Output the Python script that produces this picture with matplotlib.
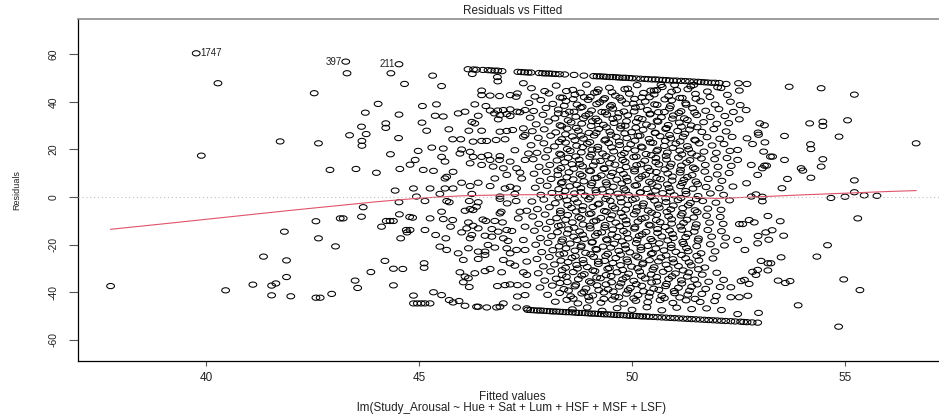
#!/usr/bin/env python3
"""Residuals vs Fitted diagnostic plot (R plot.lm style) redrawn with matplotlib."""
import numpy as np
import matplotlib
matplotlib.use("Agg")
import matplotlib.pyplot as plt
from matplotlib.path import Path

plt.rcParams["font.family"] = ["Liberation Sans", "DejaVu Sans"]
plt.rcParams["axes.unicode_minus"] = False

# (fitted, residual) pairs, grouped by region
left_tail = [
    (39.77, 60.5), (40.28, 47.9), (39.89, 17.4), (41.74, 23.4), (42.54, 43.7), (42.64, 22.6),
    (37.76, -37.5), (40.46, -39.3), (41.10, -36.9), (41.35, -25.1), (41.54, -37.3), (41.64, -36.4),
    (41.54, -41.4), (41.84, -14.6), (41.89, -26.7), (41.89, -33.7), (41.99, -41.8), (42.58, -10.2),
    (42.64, -17.4), (42.58, -42.4), (42.68, -42.4),
    (43.28, 57.0), (43.31, 52.1), (44.53, 55.9), (44.34, 52.1), (44.66, 47.6), (44.04, 39.2),
    (43.74, 35.5), (44.53, 34.7), (43.65, 29.6), (44.22, 31.0), (44.22, 29.1), (43.37, 26.0),
    (43.76, 26.5), (43.66, 23.6), (43.66, 21.6), (44.52, 24.8), (44.33, 18.0), (42.91, 11.4),
    (43.52, 11.8), (44.00, 10.2), (44.55, 11.8), (44.79, 13.6), (44.44, 2.7), (43.69, -4.3),
    (44.53, -2.2), (43.04, -20.8), (43.15, -9.0), (43.22, -9.0), (43.65, -8.3), (42.95, -40.8),
    (43.50, -35.2), (43.56, -38.3), (43.87, -31.6), (44.20, -26.9), (44.40, -30.2), (44.62, -30.3),
    (44.40, -37.2), (44.12, -12.5), (44.23, -10.1), (44.32, -10.1), (44.40, -10.1), (44.54, -7.3),
    (44.57, -17.4), (44.70, -13.9), (44.72, -14.9), (44.78, -8.4),
]

mid_upper = [
    (45.32, 51.1), (46.25, 51.8), (46.84, 50.5), (46.85, 48.7), (45.53, 46.7), (47.45, 47.9),
    (46.47, 44.8), (46.47, 42.9), (46.67, 42.7), (46.89, 42.5), (47.14, 42.9), (47.31, 43.6), (47.28, 42.2),
    (45.08, 38.3), (45.41, 39.0), (46.31, 39.0), (46.57, 38.3), (46.67, 36.4), (46.85, 36.4), (46.98, 36.6),
    (47.14, 36.9), (47.30, 35.9), (47.37, 35.7), (47.49, 36.6), (46.77, 35.2), (46.90, 34.5), (47.06, 34.9),
    (47.14, 34.1), (46.86, 32.7), (45.92, 35.2), (46.08, 35.9), (45.38, 34.2), (45.57, 33.9), (46.39, 34.2),
    (46.24, 31.6), (46.31, 31.0), (45.07, 31.3), (45.18, 27.9), (45.70, 28.5), (46.17, 27.9), (46.47, 27.9),
    (46.90, 27.5), (47.06, 27.8), (47.20, 28.2), (47.45, 28.9), (47.49, 26.1), (45.79, 24.3), (45.98, 24.3),
    (46.27, 23.3), (46.47, 23.6), (46.59, 23.6), (46.81, 24.0), (47.02, 24.3), (47.45, 25.4),
    (44.98, 19.4), (45.30, 20.8), (45.57, 20.4), (46.00, 20.0), (45.96, 18.3), (46.20, 19.0), (46.27, 16.9),
    (46.47, 16.9), (46.62, 17.6), (46.90, 17.2), (46.67, 15.6), (46.89, 15.6), (47.14, 14.9), (47.25, 19.7),
    (47.57, 18.3), (47.49, 15.6), (44.91, 15.6), (45.10, 11.4), (45.34, 11.0), (45.53, 16.9), (45.61, 14.9),
    (45.80, 10.6), (46.20, 14.2), (46.47, 13.5), (46.74, 12.8), (46.98, 12.1), (47.06, 9.3), (47.29, 12.1),
    (47.37, 10.3), (45.61, 7.8), (45.65, 8.5), (46.00, 6.0), (46.20, 4.6), (46.39, 6.0), (46.67, 4.6),
    (46.78, 7.8), (47.02, 3.6), (47.14, 4.3), (47.29, 3.6), (47.41, 7.8), (44.87, 3.6), (45.26, 3.6),
    (45.61, 3.6), (45.80, 3.6), (44.94, 0.2), (45.49, 1.3), (46.24, 1.3), (46.90, 0.2), (47.25, 1.3),
]

mid_lower = [
    (45.14, -1.7), (45.65, -1.7), (45.71, -2.2), (46.18, -1.7), (46.39, -2.2), (46.90, -0.8), (47.07, -2.7),
    (47.28, -1.7), (45.53, -6.2), (46.08, -5.8), (46.27, -5.5), (46.35, -4.1), (46.20, -5.1), (46.90, -6.9),
    (46.93, -6.2), (47.37, -6.2), (47.53, -5.8), (44.85, -8.7), (45.26, -9.0), (45.57, -9.3), (45.79, -9.7),
    (46.16, -10.7), (46.27, -12.1), (46.50, -9.5), (46.57, -10.1), (46.78, -10.1), (46.96, -10.7), (47.33, -9.0),
    (45.74, -12.5), (46.12, -13.2), (46.39, -13.2), (46.71, -13.5), (46.86, -14.6), (47.06, -13.9), (47.18, -14.3),
    (47.49, -12.5), (44.79, -13.9), (45.14, -13.9), (45.39, -16.0), (45.63, -17.4), (46.00, -14.9), (46.24, -16.0),
    (46.20, -17.4), (46.55, -16.3), (46.71, -16.7), (46.98, -17.4), (47.09, -18.5), (47.45, -18.1), (45.49, -20.9),
    (45.65, -22.3), (45.92, -23.7), (46.16, -21.6), (46.39, -23.0), (46.62, -20.2), (46.78, -21.3), (47.06, -21.6),
    (47.14, -23.7), (47.29, -22.3), (47.49, -22.3), (45.12, -27.9), (45.12, -29.8), (46.04, -26.5), (46.39, -26.1),
    (46.55, -23.0), (46.55, -24.4), (46.98, -26.5), (47.14, -27.9), (47.25, -28.9), (47.53, -27.2), (45.96, -31.7),
    (46.08, -33.5), (46.16, -34.2), (46.31, -32.1), (46.55, -31.2), (46.67, -30.3), (46.94, -31.7), (47.45, -31.7),
    (47.53, -32.8), (46.04, -35.9), (46.18, -37.9), (46.84, -37.5), (47.02, -37.1), (47.14, -36.8), (47.31, -37.1),
    (47.53, -37.1), (44.87, -41.5), (45.34, -40.1), (45.53, -41.3), (45.71, -43.4), (45.80, -44.4), (45.94, -43.8),
    (46.08, -45.8), (46.35, -46.2), (46.39, -46.2), (46.59, -46.5), (46.82, -46.5), (46.90, -46.2), (46.98, -44.8),
    (47.31, -41.9), (47.49, -41.3), (47.29, -46.5), (47.53, -46.9), (44.87, -44.8), (44.96, -44.8), (45.05, -44.8),
    (45.14, -44.8), (45.26, -44.8),
]

right_side = [
    (53.69, 46.4), (54.44, 45.8), (55.22, 43.1), (56.67, 22.6), (54.17, 31.0), (54.48, 31.7), (54.48, 29.9),
    (55.06, 32.3), (53.58, 25.7), (54.86, 25.4), (54.19, 22.2), (54.20, 20.2), (53.11, 30.2), (52.96, 27.1),
    (52.97, 26.2), (52.70, 24.7), (52.83, 22.3), (53.12, 23.0), (53.09, 19.1), (53.25, 17.0), (53.30, 17.0),
    (53.58, 15.6), (54.48, 15.9), (54.44, 12.8), (53.97, 12.1), (54.01, 11.1), (53.11, 13.2), (53.16, 13.2),
    (54.20, 8.1), (53.65, 7.6), (55.22, 7.0), (53.52, 3.7), (55.22, 2.0), (55.00, 0.1), (55.45, 0.7),
    (55.75, 0.5), (54.67, -0.4), (52.91, 1.1), (53.06, 0.1), (53.06, -1.8), (53.19, -8.0), (55.30, -9.0),
    (54.59, -20.3), (54.34, -25.1), (54.97, -34.7), (55.35, -39.2), (53.90, -45.6), (54.85, -54.6),
    (53.50, -25.4), (53.43, -35.2), (53.60, -36.2), (53.71, -35.4), (53.56, -16.3), (53.48, -10.2),
    (53.29, -14.0), (53.14, -14.9), (53.21, -18.0), (53.19, -27.9), (53.26, -27.9), (53.19, -30.9),
    (52.97, -48.8), (52.32, -42.2), (52.52, -42.2), (52.72, -41.6), (52.48, -49.3), (53.03, -26.9),
    (52.95, -30.7), (52.83, -31.5), (52.91, -32.8), (52.75, -36.6), (52.64, -34.9), (52.56, -35.4),
    (52.32, -38.0), (52.65, -22.3), (52.48, -18.1), (52.96, -16.4), (52.95, -19.5), (52.75, -9.7),
    (52.87, -10.7), (52.52, -11.4), (52.60, -11.4), (52.54, 38.7), (52.68, 36.6), (52.52, 32.7),
    (53.00, 31.0), (52.48, 19.8), (52.48, 15.6), (52.80, 13.5), (52.95, 9.3), (53.06, 12.1), (52.69, 5.8),
    (52.80, 0.2), (52.01, 46.2), (52.21, 47.6), (52.50, 47.9), (52.70, 47.6), (52.52, 44.8), (50.68, 47.2),
    (51.00, 47.2), (51.45, 47.2), (50.52, 44.8),
]

# responses at the top of the scale (residual = 100 - fitted)
ceiling = [
    (46.15, 53.8), (46.28, 53.7), (46.35, 53.6), (46.50, 53.5), (46.62, 53.4), (46.70, 53.3), (46.78, 53.2),
    (46.85, 53.2), (46.95, 53.0), (47.32, 52.7), (47.40, 52.6), (47.48, 52.5), (47.56, 52.4), (47.63, 52.4),
    (47.82, 52.2), (47.90, 52.1), (47.97, 52.0), (48.05, 52.0), (48.12, 51.9), (48.20, 51.8), (48.30, 51.7),
    (48.42, 51.6), (48.64, 51.4), (48.87, 51.1), (49.10, 50.9), (49.18, 50.8), (49.25, 50.8), (49.33, 50.7),
    (49.40, 50.6), (49.48, 50.5), (49.55, 50.5), (49.63, 50.4), (49.70, 50.3), (49.78, 50.2), (49.85, 50.2),
    (49.93, 50.1), (50.00, 50.0), (50.10, 49.9), (50.20, 49.8), (50.30, 49.7), (50.38, 49.6), (50.47, 49.5),
    (50.55, 49.5), (50.63, 49.4), (50.72, 49.3), (50.80, 49.2), (50.88, 49.1), (50.97, 49.0), (51.05, 49.0),
    (51.15, 48.9), (51.25, 48.8), (51.35, 48.7), (51.45, 48.6), (51.55, 48.5), (51.62, 48.4), (51.70, 48.3),
    (51.78, 48.2), (51.87, 48.1), (51.95, 48.1), (52.05, 48.0),
]

# responses at the bottom of the scale (residual = -fitted)
floor = [
    (47.55, -47.5), (47.62, -47.6), (47.70, -47.7), (47.78, -47.8), (47.85, -47.8), (47.92, -47.9),
    (48.00, -48.0), (48.08, -48.1), (48.15, -48.2), (48.22, -48.2), (48.30, -48.3), (48.38, -48.4),
    (48.45, -48.5), (48.52, -48.5), (48.60, -48.6), (48.68, -48.7), (48.75, -48.8), (48.83, -48.8),
    (48.90, -48.9), (48.98, -49.0), (49.05, -49.1), (49.12, -49.1), (49.20, -49.2), (49.28, -49.3),
    (49.35, -49.4), (49.42, -49.4), (49.50, -49.5), (49.58, -49.6), (49.65, -49.7), (49.72, -49.7),
    (49.80, -49.8), (49.88, -49.9), (49.95, -50.0), (50.03, -50.0), (50.10, -50.1), (50.18, -50.2),
    (50.25, -50.3), (50.33, -50.3), (50.40, -50.4), (50.50, -50.5), (50.60, -50.6), (50.70, -50.7),
    (50.80, -50.8), (50.90, -50.9), (51.00, -51.0), (51.10, -51.1), (51.20, -51.2), (51.30, -51.3),
    (51.40, -51.4), (51.50, -51.5), (51.60, -51.6), (51.70, -51.7), (51.80, -51.8), (51.90, -51.9),
    (52.00, -52.0), (52.10, -52.1), (52.20, -52.2), (52.32, -52.3), (52.42, -52.4), (52.55, -52.5),
    (52.62, -52.6), (52.70, -52.7), (52.82, -52.8), (52.95, -52.9),
]

core_top = [
    (47.64, 45.8), (47.95, 44.6), (48.22, 46.9), (48.61, 45.1), (48.93, 47.3), (49.18, 44.2), (49.47, 46.0),
    (49.83, 45.4), (50.12, 47.1), (50.44, 44.8), (50.71, 46.3), (51.05, 45.0), (51.38, 46.6), (51.77, 44.4),
    (52.09, 45.9),
    (47.72, 42.3), (48.05, 43.6), (48.37, 41.8), (48.66, 43.1), (48.88, 42.0), (49.12, 43.9), (49.36, 41.6),
    (49.61, 42.7), (49.94, 43.5), (50.23, 41.9), (50.52, 43.2), (50.86, 42.4), (51.18, 41.7), (51.49, 43.4),
    (51.83, 42.1), (52.24, 43.0),
    (47.58, 39.6), (47.86, 40.8), (48.14, 39.2), (48.45, 40.4), (48.71, 38.9), (48.97, 40.9), (49.24, 39.8),
    (49.52, 38.7), (49.76, 40.6), (50.03, 39.3), (50.31, 40.2), (50.59, 38.8), (50.93, 40.7), (51.26, 39.5),
    (51.61, 40.3), (51.95, 38.9), (52.31, 40.1),
    (47.69, 36.2), (47.98, 37.5), (48.27, 36.8), (48.53, 35.9), (48.79, 37.6), (49.05, 36.4), (49.29, 35.8),
    (49.55, 37.2), (49.81, 36.0), (50.08, 37.7), (50.36, 36.6), (50.62, 35.7), (50.88, 37.3), (51.15, 36.1),
    (51.42, 37.4), (51.73, 36.3), (52.04, 37.0), (52.38, 35.8),
    (47.61, 33.4), (47.91, 34.6), (48.19, 33.1), (48.42, 34.9), (48.68, 33.8), (48.91, 34.2), (49.15, 33.0),
    (49.41, 34.7), (49.66, 33.5), (49.90, 34.4), (50.15, 33.2), (50.42, 34.8), (50.69, 33.6), (50.97, 34.3),
    (51.23, 33.1), (51.52, 34.5), (51.84, 33.7), (52.18, 34.1),
    (47.75, 30.6), (48.04, 31.8), (48.31, 30.2), (48.57, 31.4), (48.82, 30.9), (49.07, 31.9), (49.33, 30.4),
    (49.58, 31.2), (49.84, 30.0), (50.10, 31.6), (50.34, 30.5), (50.61, 31.7), (50.85, 30.3), (51.11, 31.3),
    (51.39, 30.1), (51.68, 31.5), (51.99, 30.8), (52.27, 31.1),
]

core_upper_mid = [
    (47.66, 27.7), (47.94, 28.5), (48.21, 27.2), (48.48, 28.8), (48.74, 27.9), (48.99, 27.0), (49.22, 28.6),
    (49.48, 27.5), (49.73, 28.9), (49.99, 27.3), (50.26, 28.3), (50.54, 27.1), (50.79, 28.7), (51.07, 27.8),
    (51.35, 28.4), (51.64, 27.4), (51.92, 28.6), (52.21, 27.6),
    (47.80, 24.9), (48.09, 25.8), (48.35, 24.3), (48.60, 25.5), (48.86, 24.6), (49.11, 25.9), (49.38, 24.2),
    (49.63, 25.3), (49.88, 24.8), (50.14, 25.7), (50.40, 24.4), (50.66, 25.6), (50.91, 24.7), (51.20, 25.4),
    (51.47, 24.1), (51.76, 25.2), (52.06, 24.5), (52.35, 25.3),
    (47.63, 21.8), (47.93, 22.6), (48.18, 21.3), (48.44, 22.9), (48.70, 21.6), (48.95, 22.4), (49.20, 21.1),
    (49.45, 22.7), (49.71, 21.9), (49.97, 22.2), (50.22, 21.2), (50.49, 22.8), (50.76, 21.5), (51.03, 22.5),
    (51.30, 21.4), (51.58, 22.6), (51.88, 21.7), (52.16, 22.3),
    (47.77, 18.6), (48.02, 19.7), (48.30, 18.2), (48.55, 19.4), (48.81, 18.8), (49.06, 19.9), (49.31, 18.3),
    (49.57, 19.2), (49.82, 18.5), (50.07, 19.6), (50.33, 18.1), (50.58, 19.3), (50.83, 18.7), (51.12, 19.5),
    (51.40, 18.4), (51.69, 19.1), (51.98, 18.6), (52.30, 19.4),
    (47.68, 15.9), (47.97, 16.7), (48.24, 15.4), (48.50, 16.5), (48.76, 15.7), (49.01, 16.9), (49.26, 15.2),
    (49.52, 16.3), (49.78, 15.6), (50.04, 16.8), (50.30, 15.3), (50.56, 16.4), (50.81, 15.8), (51.09, 16.6),
    (51.36, 15.5), (51.63, 16.2), (51.94, 15.9), (52.23, 16.4),
    (47.82, 12.7), (48.07, 13.5), (48.33, 12.2), (48.59, 13.8), (48.84, 12.9), (49.09, 13.3), (49.34, 12.1),
    (49.60, 13.6), (49.86, 12.6), (50.11, 13.4), (50.37, 12.3), (50.63, 13.7), (50.89, 12.8), (51.16, 13.2),
    (51.44, 12.4), (51.72, 13.5), (52.02, 12.7), (52.33, 13.1),
]

core_lower_mid = [
    (47.70, 9.8), (47.99, 10.6), (48.26, 9.3), (48.52, 10.4), (48.78, 9.6), (49.03, 10.9), (49.28, 9.1),
    (49.54, 10.2), (49.80, 9.7), (50.06, 10.8), (50.32, 9.4), (50.57, 10.5), (50.84, 9.9), (51.13, 10.3),
    (51.41, 9.2), (51.71, 10.7), (52.00, 9.5), (52.28, 10.1),
    (47.84, 6.8), (48.10, 7.6), (48.36, 6.3), (48.62, 7.4), (48.87, 6.6), (49.13, 7.9), (49.39, 6.2),
    (49.64, 7.3), (49.89, 6.7), (50.16, 7.7), (50.41, 6.4), (50.67, 7.5), (50.94, 6.9), (51.22, 7.2),
    (51.50, 6.5), (51.79, 7.6), (52.11, 6.8),
    (47.73, 3.9), (48.01, 4.7), (48.28, 3.3), (48.54, 4.5), (48.80, 3.7), (49.04, 4.9), (49.30, 3.2),
    (49.56, 4.3), (49.81, 3.6), (50.07, 4.8), (50.35, 3.4), (50.60, 4.4), (50.87, 3.8), (51.14, 4.6),
    (51.43, 3.5), (51.74, 4.2), (52.05, 3.7), (52.37, 4.4),
    (47.86, 0.9), (48.12, 1.7), (48.39, 0.4), (48.65, 1.5), (48.90, 0.6), (49.16, 1.9), (49.42, 0.3),
    (49.67, 1.4), (49.92, 0.8), (50.19, 1.8), (50.45, 0.5), (50.72, 1.6), (50.99, 0.7), (51.27, 1.3),
    (51.55, 0.4), (51.84, 1.5), (52.15, 0.9),
    (47.65, -1.9), (47.93, -1.1), (48.20, -2.6), (48.47, -1.4), (48.72, -2.3), (48.98, -1.0), (49.23, -2.8),
    (49.49, -1.6), (49.75, -2.2), (50.01, -1.2), (50.27, -2.7), (50.53, -1.5), (50.80, -2.1), (51.08, -1.3),
    (51.37, -2.5), (51.66, -1.7), (51.97, -2.4), (52.29, -1.4),
    (47.78, -5.1), (48.06, -4.3), (48.32, -5.8), (48.58, -4.6), (48.83, -5.5), (49.08, -4.2), (49.35, -5.9),
    (49.60, -4.8), (49.85, -5.3), (50.12, -4.4), (50.38, -5.7), (50.64, -4.5), (50.91, -5.2), (51.19, -4.7),
    (51.48, -5.6), (51.78, -4.9), (52.09, -5.4),
]

core_low = [
    (47.67, -8.2), (47.96, -7.4), (48.23, -8.9), (48.49, -7.6), (48.75, -8.5), (49.00, -7.2), (49.27, -8.8),
    (49.53, -7.7), (49.79, -8.3), (50.05, -7.3), (50.31, -8.7), (50.58, -7.5), (50.86, -8.1), (51.15, -7.8),
    (51.45, -8.6), (51.75, -7.9), (52.07, -8.4),
    (47.81, -11.3), (48.08, -10.5), (48.34, -11.9), (48.60, -10.7), (48.85, -11.6), (49.10, -10.3),
    (49.37, -11.8), (49.62, -10.8), (49.87, -11.4), (50.14, -10.4), (50.40, -11.7), (50.66, -10.6),
    (50.93, -11.2), (51.21, -10.9), (51.51, -11.5), (51.82, -10.8), (52.14, -11.3),
    (47.71, -14.2), (47.99, -13.4), (48.25, -14.8), (48.51, -13.6), (48.77, -14.5), (49.02, -13.2),
    (49.29, -14.9), (49.55, -13.7), (49.80, -14.3), (50.06, -13.3), (50.33, -14.7), (50.60, -13.5),
    (50.88, -14.1), (51.17, -13.8), (51.46, -14.6), (51.78, -13.9), (52.10, -14.4),
    (47.85, -17.3), (48.11, -16.5), (48.37, -17.9), (48.63, -16.7), (48.88, -17.6), (49.14, -16.3),
    (49.40, -17.8), (49.65, -16.8), (49.91, -17.4), (50.17, -16.4), (50.44, -17.7), (50.70, -16.6),
    (50.97, -17.2), (51.26, -16.9), (51.56, -17.5), (51.87, -16.7), (52.20, -17.1),
    (47.74, -20.1), (48.03, -19.3), (48.29, -20.8), (48.55, -19.6), (48.81, -20.5), (49.06, -19.2),
    (49.32, -20.9), (49.58, -19.7), (49.84, -20.3), (50.10, -19.4), (50.37, -20.6), (50.64, -19.5),
    (50.92, -20.2), (51.21, -19.8), (51.52, -20.7), (51.84, -19.9), (52.17, -20.4),
    (47.88, -23.2), (48.14, -22.4), (48.40, -23.8), (48.66, -22.6), (48.91, -23.5), (49.17, -22.2),
    (49.43, -23.9), (49.69, -22.7), (49.95, -23.3), (50.21, -22.3), (50.48, -23.6), (50.75, -22.5),
    (51.03, -23.1), (51.32, -22.8), (51.62, -23.7), (51.95, -22.9),
]

core_bottom = [
    (47.77, -26.1), (48.06, -25.3), (48.33, -26.8), (48.59, -25.6), (48.85, -26.5), (49.10, -25.2),
    (49.36, -26.9), (49.62, -25.7), (49.88, -26.3), (50.14, -25.4), (50.41, -26.6), (50.68, -25.5),
    (50.96, -26.2), (51.26, -25.8), (51.57, -26.7), (51.90, -25.9),
    (47.92, -29.2), (48.18, -28.4), (48.44, -29.8), (48.70, -28.6), (48.95, -29.5), (49.21, -28.2),
    (49.47, -29.9), (49.73, -28.7), (49.99, -29.3), (50.25, -28.3), (50.52, -29.6), (50.80, -28.5),
    (51.09, -29.1), (51.39, -28.8), (51.71, -29.7),
    (47.80, -32.1), (48.09, -31.3), (48.36, -32.8), (48.62, -31.6), (48.88, -32.5), (49.13, -31.2),
    (49.39, -32.9), (49.65, -31.7), (49.92, -32.3), (50.18, -31.4), (50.45, -32.6), (50.73, -31.5),
    (51.02, -32.2), (51.33, -31.8), (51.65, -32.7), (51.99, -31.9),
    (47.95, -35.2), (48.22, -34.4), (48.48, -35.8), (48.74, -34.6), (49.00, -35.5), (49.26, -34.2),
    (49.52, -35.9), (49.78, -34.7), (50.04, -35.3), (50.31, -34.3), (50.58, -35.6), (50.86, -34.5),
    (51.16, -35.1), (51.47, -34.8), (51.80, -35.7), (52.15, -34.9),
    (47.84, -38.1), (48.13, -37.3), (48.40, -38.8), (48.66, -37.6), (48.92, -38.5), (49.18, -37.2),
    (49.44, -38.9), (49.70, -37.7), (49.96, -38.3), (50.23, -37.4), (50.51, -38.6), (50.79, -37.5),
    (51.09, -38.2), (51.40, -37.8), (51.73, -38.7), (52.07, -37.9),
    (48.02, -41.2), (48.30, -40.4), (48.56, -41.8), (48.82, -40.6), (49.08, -41.5), (49.34, -40.2),
    (49.60, -41.9), (49.87, -40.7), (50.14, -41.3), (50.42, -40.3), (50.70, -41.6), (51.00, -40.5),
    (51.31, -41.1), (51.64, -40.8), (51.98, -41.7),
    (48.20, -44.1), (48.47, -43.3), (48.73, -44.8), (49.00, -43.6), (49.27, -44.5), (49.54, -43.2),
    (49.81, -44.9), (50.09, -43.7), (50.37, -44.3), (50.66, -43.4), (50.96, -44.6), (51.27, -43.5),
    (51.60, -44.2), (51.94, -43.8),
    (48.60, -47.3), (48.95, -46.5), (49.30, -47.9), (49.65, -46.8), (50.00, -47.5), (50.35, -46.4),
    (50.70, -47.7), (51.05, -46.6), (51.40, -47.2), (51.75, -46.9), (52.10, -47.6),
]

core_dense = [
    (48.46, 44.6), (48.79, 43.9), (49.21, 45.3), (49.53, 44.1), (49.90, 45.6), (50.27, 43.8), (50.58, 45.0),
    (50.93, 44.3), (51.31, 45.4), (48.41, 38.4), (48.83, 37.9), (49.17, 39.1), (49.49, 38.1), (49.86, 39.3),
    (50.20, 38.0), (50.53, 39.0), (50.90, 38.3), (51.27, 38.9), (48.50, 32.3), (48.86, 33.1), (49.20, 32.0),
    (49.55, 32.9), (49.87, 31.9), (50.24, 32.8), (50.59, 32.1), (50.95, 33.0), (51.30, 32.4), (48.44, 26.4),
    (48.80, 25.9), (49.16, 27.0), (49.51, 26.2), (49.83, 26.8), (50.19, 25.8), (50.55, 26.9), (50.88, 26.1),
    (51.24, 26.6), (48.48, 20.2), (48.84, 21.0), (49.19, 20.0), (49.52, 20.9), (49.89, 20.3), (50.24, 20.8),
    (50.60, 19.9), (50.96, 20.7), (51.33, 20.1), (48.42, 14.6), (48.78, 13.9), (49.14, 14.9), (49.47, 14.2),
    (49.84, 14.8), (50.21, 13.8), (50.56, 14.7), (50.92, 14.0), (51.28, 14.5), (48.47, 8.3), (48.83, 8.9),
    (49.18, 8.1), (49.50, 8.8), (49.87, 8.2), (50.23, 8.7), (50.58, 8.0), (50.95, 8.6), (51.30, 8.4),
    (48.43, 2.6), (48.80, 2.1), (49.15, 2.9), (49.48, 2.2), (49.85, 2.8), (50.20, 2.0), (50.55, 2.7),
    (50.90, 2.3), (51.26, 2.5), (48.49, -3.4), (48.85, -3.9), (49.20, -3.1), (49.54, -3.8), (49.90, -3.3),
    (50.25, -3.7), (50.61, -3.2), (50.97, -3.6), (51.32, -3.5), (48.44, -9.6), (48.81, -9.1), (49.16, -9.9),
    (49.49, -9.3), (49.86, -9.8), (50.22, -9.2), (50.57, -9.7), (50.93, -9.4), (51.29, -9.6), (48.48, -15.4),
    (48.84, -15.9), (49.19, -15.2), (49.53, -15.8), (49.88, -15.3), (50.24, -15.7), (50.60, -15.1),
    (50.95, -15.6), (51.31, -15.5), (48.45, -21.6), (48.80, -21.1), (49.15, -21.9), (49.50, -21.3),
    (49.85, -21.8), (50.21, -21.2), (50.56, -21.7), (50.92, -21.4), (51.28, -21.5), (48.50, -27.4),
    (48.86, -27.9), (49.21, -27.2), (49.55, -27.8), (49.90, -27.3), (50.26, -27.7), (50.62, -27.1),
    (50.98, -27.6), (51.34, -27.5), (48.46, -33.6), (48.82, -33.1), (49.17, -33.9), (49.51, -33.3),
    (49.86, -33.8), (50.22, -33.2), (50.58, -33.7), (50.94, -33.4), (51.30, -33.5), (48.51, -39.4),
    (48.87, -39.9), (49.22, -39.2), (49.56, -39.8), (49.91, -39.3), (50.27, -39.7), (50.63, -39.1),
    (50.99, -39.6), (51.35, -39.5),
]

core_fill = [
    (48.31, 41.9), (48.62, 41.2), (49.02, 42.1), (49.33, 41.0), (49.71, 41.8), (50.06, 41.3), (50.41, 42.0),
    (50.77, 41.1), (51.12, 41.7), (51.50, 41.4),
    (48.27, 35.2), (48.64, 35.9), (48.99, 35.0), (49.37, 35.7), (49.69, 35.3), (50.05, 36.0), (50.43, 35.1),
    (50.76, 35.8), (51.10, 35.4), (51.47, 35.6),
    (48.35, 29.8), (48.69, 29.1), (49.04, 29.9), (49.40, 29.3), (49.74, 30.0), (50.09, 29.2), (50.46, 29.7),
    (50.81, 29.0), (51.16, 29.6), (51.53, 29.4),
    (48.29, 23.2), (48.66, 23.9), (49.01, 23.1), (49.36, 23.8), (49.70, 23.3), (50.07, 23.7), (50.43, 23.0),
    (50.78, 23.6), (51.13, 23.4), (51.49, 23.8),
    (48.33, 17.8), (48.68, 17.1), (49.05, 17.9), (49.39, 17.2), (49.75, 17.7), (50.10, 17.0), (50.45, 17.6),
    (50.80, 17.3), (51.17, 17.9), (51.52, 17.4),
    (48.26, 11.2), (48.63, 11.9), (49.00, 11.1), (49.35, 11.8), (49.72, 11.3), (50.06, 11.7), (50.42, 11.0),
    (50.77, 11.6), (51.14, 11.4), (51.48, 11.8),
    (48.34, 5.8), (48.70, 5.1), (49.06, 5.9), (49.41, 5.2), (49.76, 5.7), (50.11, 5.0), (50.47, 5.6),
    (50.83, 5.3), (51.18, 5.9), (51.54, 5.4),
    (48.28, -0.2), (48.65, -0.9), (49.02, -0.1), (49.38, -0.8), (49.73, -0.3), (50.08, -0.7), (50.44, 0.0),
    (50.79, -0.6), (51.15, -0.4), (51.51, -0.9),
    (48.32, -6.8), (48.69, -6.1), (49.04, -6.9), (49.40, -6.2), (49.74, -6.7), (50.10, -6.0), (50.46, -6.6),
    (50.82, -6.3), (51.18, -6.9), (51.53, -6.4),
    (48.27, -12.2), (48.64, -12.9), (49.01, -12.1), (49.36, -12.8), (49.71, -12.3), (50.07, -12.7),
    (50.43, -12.0), (50.78, -12.6), (51.14, -12.4), (51.49, -12.8),
    (48.35, -18.8), (48.71, -18.1), (49.07, -18.9), (49.42, -18.2), (49.77, -18.7), (50.12, -18.0),
    (50.48, -18.6), (50.84, -18.3), (51.19, -18.9), (51.55, -18.4),
    (48.30, -24.2), (48.67, -24.9), (49.03, -24.1), (49.38, -24.8), (49.73, -24.3), (50.09, -24.7),
    (50.45, -24.0), (50.80, -24.6), (51.16, -24.4), (51.52, -24.8),
    (48.36, -30.8), (48.72, -30.1), (49.08, -30.9), (49.43, -30.2), (49.78, -30.7), (50.13, -30.0),
    (50.49, -30.6), (50.85, -30.3), (51.20, -30.9), (51.56, -30.4),
    (48.31, -36.2), (48.68, -36.9), (49.04, -36.1), (49.39, -36.8), (49.74, -36.3), (50.10, -36.7),
    (50.46, -36.0), (50.81, -36.6), (51.17, -36.4), (51.53, -36.8),
    (48.62, -42.8), (48.98, -42.1), (49.34, -42.9), (49.69, -42.2), (50.04, -42.7), (50.40, -42.0),
    (50.76, -42.6), (51.12, -42.3), (51.48, -42.9),
]

# lowess smooth (red line)
lowess_fitted = [37.76, 39.0, 40.0, 41.0, 42.0, 43.0, 44.0, 45.0, 46.0, 47.0, 48.0, 49.0,
                 50.0, 51.0, 52.0, 53.0, 54.0, 55.0, 56.0, 56.67]
lowess_resid = [-13.6, -11.3, -9.4, -7.5, -5.6, -3.8, -2.0, -0.5, 0.5, 0.9, 1.0, 1.1,
                0.9, 0.1, -0.6, 0.1, 0.9, 1.6, 2.3, 2.7]

# labelled extreme residuals: (fitted, residual, label, side)
outlier_labels = [(39.77, 60.5, "1747", "right"), (43.28, 57.0, "397", "left"),
                  (44.53, 55.9, "211", "left")]

x_ticks = [40, 45, 50, 55]
y_ticks = [-60, -40, -20, 0, 20, 40, 60]

groups = [left_tail, mid_upper, mid_lower, right_side, ceiling, floor, core_top,
          core_upper_mid, core_lower_mid, core_low, core_bottom, core_dense, core_fill]
pts = np.array([p for g in groups for p in g])
fitted, resid = pts[:, 0], pts[:, 1]

# R's open circle, drawn slightly wide like the source image
theta = np.linspace(0, 2 * np.pi, 41)
ring = Path(np.column_stack([1.5 * np.cos(theta), np.sin(theta)]), closed=True)

fig = plt.figure(figsize=(9.39, 4.18), dpi=100)
ax = fig.add_axes([78 / 939, 57 / 418, 870 / 939, 342.3 / 418])
ax.set_xlim(36.995, 57.418)
ax.set_ylim(-69.05, 75.07)

ax.scatter(fitted, resid, marker=ring, s=5.6 ** 2, facecolors="none",
           edgecolors="black", linewidths=0.75, zorder=2)
ax.plot(lowess_fitted, lowess_resid, color="#DF536B", lw=0.8, zorder=3)
ax.axhline(0, color="#bebebe", lw=0.8, ls=(0, (1, 2.5)), zorder=4)

for fx, ry, lab, side in outlier_labels:
    off = 3 if side == "right" else -3
    ax.annotate(lab, (fx, ry), xytext=(off, 0), textcoords="offset points",
                ha="left" if side == "right" else "right", va="center",
                fontsize=7, color="#222222")

ax.spines["right"].set_visible(False)
ax.spines["top"].set_color("#8c8c8c")
ax.spines["top"].set_linewidth(1.2)
for s in ("left", "bottom"):
    ax.spines[s].set_color("black")
    ax.spines[s].set_linewidth(0.9)

ax.set_xticks(x_ticks)
ax.set_yticks(y_ticks)
ax.tick_params(axis="x", length=3.3, width=0.8, color="#555555", pad=4.5,
               labelsize=8.5, labelcolor="#222222")
ax.tick_params(axis="y", length=6.5, width=0.8, color="#555555", pad=7.5,
               labelsize=7.5, labelcolor="#222222", labelrotation=90)
for lab in ax.get_yticklabels():
    lab.set_va("center")

fig.text(513 / 939, 1 - 11 / 418, "Residuals vs Fitted", ha="center", va="center",
         fontsize=8.5, color="#222222")
fig.text(512 / 939, 1 - 397.5 / 418, "Fitted values", ha="center", va="center",
         fontsize=8.5, color="#222222")
fig.text(512 / 939, 1 - 408.5 / 418,
         "lm(Study_Arousal ~ Hue + Sat + Lum + HSF + MSF + LSF)",
         ha="center", va="center", fontsize=8.5, color="#222222")
fig.text(17 / 939, 1 - 190 / 418, "Residuals", ha="center", va="center",
         rotation=90, fontsize=6.5, color="#222222")

fig.savefig("out.png", dpi=100)
